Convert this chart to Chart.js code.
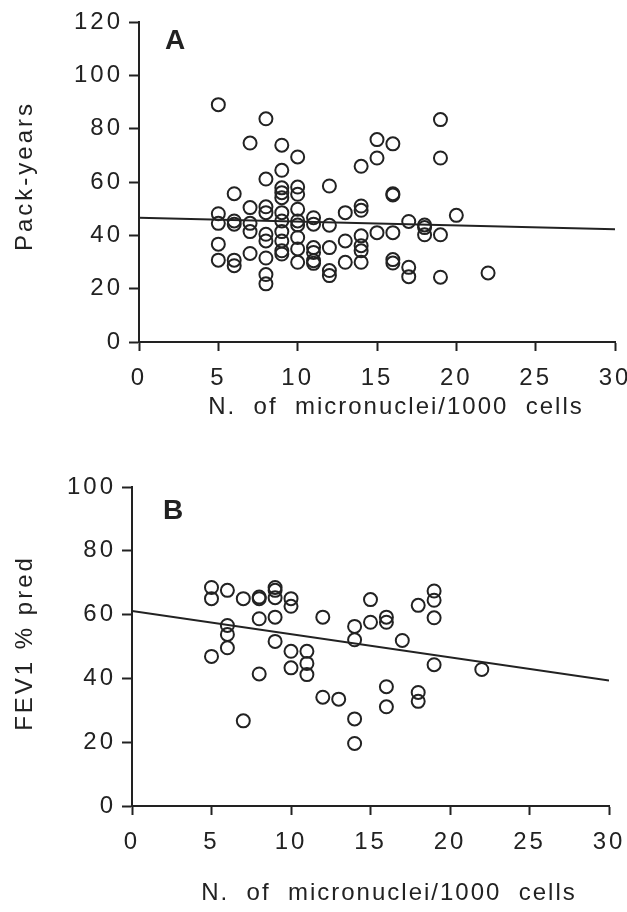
<!DOCTYPE html>
<html>
<head>
<meta charset="utf-8">
<script src="https://cdn.jsdelivr.net/npm/chart.js@4.4.1/dist/chart.umd.min.js"></script>
<style>
  html, body { margin: 0; padding: 0; background: #fff; }
  #wrap { position: relative; width: 627px; height: 912px; }
  .panel { position: absolute; left: 0; width: 627px; }
  #panelA { top: 0; height: 450px; }
  #panelB { top: 450px; height: 462px; }
</style>
</head>
<body>
<div id="wrap">
  <div class="panel" id="panelA"><canvas id="chart-a"></canvas></div>
  <div class="panel" id="panelB"><canvas id="chart-b"></canvas></div>
</div>
<script>
// === Data ===

// Panel A: micronuclei count vs pack-years
const microA = [
  5, 5, 5, 5, 5,
  6, 6, 6, 6, 6,
  7, 7, 7, 7, 7,
  8, 8, 8, 8, 8, 8, 8, 8, 8,
  9, 9, 9, 9, 9, 9, 9, 9, 9, 9, 9,
  10, 10, 10, 10, 10, 10, 10, 10, 10,
  11, 11, 11, 11, 11, 11,
  12, 12, 12, 12, 12,
  13, 13, 13,
  14, 14, 14, 14, 14, 14, 14,
  15, 15, 15,
  16, 16, 16, 16, 16, 16,
  17, 17, 17,
  18, 18, 18,
  19, 19, 19, 19,
  20,
  22,
];
const packYears = [
  89, 48.1, 44.5, 36.7, 30.7,
  55.6, 45.4, 44.2, 30.7, 28.6,
  74.6, 50.4, 44.5, 41.4, 33.2,
  83.7, 61.1, 50.7, 48.5, 40.4, 37.9, 31.5, 25.3, 21.8,
  73.8, 64.4, 57.8, 56.0, 54.1, 48.5, 45.4, 41.4, 37.9, 34.2, 33.0,
  69.4, 58.1, 55.4, 49.8, 45.4, 43.9, 39.2, 34.9, 29.9,
  46.6, 44.2, 35.4, 33.6, 30.5, 29.5,
  58.5, 43.8, 35.4, 26.8, 24.9,
  48.5, 37.9, 29.9,
  65.9, 51.0, 49.4, 39.8, 36.1, 34.2, 29.9,
  75.9, 69.0, 41.0,
  74.3, 55.6, 55.1, 41.0, 30.9, 29.6,
  45.2, 28.0, 24.5,
  43.9, 42.9, 40.2,
  83.4, 69.0, 40.2, 24.3,
  47.5,
  25.9,
];
const fitA = [46.6, 42.3]; // regression line at x = 0 and x = 30

// Panel B: micronuclei count vs FEV1 % predicted
const microB = [
  5, 5, 5,
  6, 6, 6, 6,
  7, 7,
  8, 8, 8, 8,
  9, 9, 9, 9, 9,
  10, 10, 10, 10,
  11, 11, 11,
  12, 12,
  13,
  14, 14, 14, 14,
  15, 15,
  16, 16, 16, 16,
  17,
  18, 18, 18,
  19, 19, 19, 19,
  22,
];
const fev1 = [
  68.5, 65.0, 46.9,
  67.6, 56.6, 53.8, 49.6,
  65.0, 26.7,
  65.5, 65.0, 58.7, 41.4,
  68.5, 67.6, 65.3, 59.2, 51.6,
  65.0, 62.6, 48.5, 43.3,
  48.5, 44.7, 41.2,
  59.2, 34.1,
  33.5,
  56.3, 52.1, 27.3, 19.6,
  64.7, 57.6,
  59.2, 57.6, 37.4, 31.1,
  51.9,
  62.9, 35.6, 32.8,
  67.4, 64.5, 59.0, 44.3,
  42.8,
];
const fitB = [61.1, 39.3];

const xTicks = [0, 5, 10, 15, 20, 25, 30];
const yTicksA = [0, 20, 40, 60, 80, 100, 120];
const yTicksB = [0, 20, 40, 60, 80, 100];

const xTitle = 'N.  of  micronuclei/1000  cells';

// === Styling ===
const INK = '#222';
const FONT = '"Liberation Sans", Arial, Helvetica, sans-serif';

function toPoints(xs, ys) {
  return xs.map((x, i) => ({ x, y: ys[i] }));
}

function axes(o) {
  return {
    x: {
      type: 'linear',
      min: 0,
      max: 30,
      afterBuildTicks: s => { s.ticks = xTicks.map(v => ({ value: v })); },
      afterFit: s => { s.height = o.xHeight; s.paddingLeft = 0; s.paddingRight = 0; },
      grid: { drawOnChartArea: false, drawTicks: true, tickLength: 9, tickWidth: 2, color: INK },
      border: { display: true, color: INK, width: 2 },
      ticks: { color: INK, padding: 13, autoSkip: false, maxRotation: 0, font: { family: FONT, size: 24 } },
    },
    y: {
      type: 'linear',
      min: 0,
      max: o.yTicks[o.yTicks.length - 1],
      afterBuildTicks: s => { s.ticks = o.yTicks.map(v => ({ value: v })); },
      afterFit: s => { s.width = o.yWidth; s.paddingTop = 0; s.paddingBottom = 0; },
      grid: { drawOnChartArea: false, drawTicks: true, tickLength: 10, tickWidth: 2, color: INK },
      border: { display: true, color: INK, width: 2 },
      ticks: { color: INK, padding: 6, font: { family: FONT, size: 24 } },
    },
  };
}

// Panel texts (letter, axis titles) and letter spacing
function textPlugin(o) {
  return {
    id: 'panelText',
    beforeDraw(chart) {
      chart.ctx.letterSpacing = '3px';
    },
    afterDraw(chart) {
      const ctx = chart.ctx;
      ctx.save();
      ctx.fillStyle = INK;

      ctx.letterSpacing = '0px';
      ctx.font = 'bold 28px ' + FONT;
      ctx.textAlign = 'left';
      ctx.textBaseline = 'alphabetic';
      ctx.fillText(o.letter, o.letterX, o.letterY);

      ctx.font = '24px ' + FONT;
      ctx.letterSpacing = '2px';
      ctx.textAlign = 'center';
      ctx.textBaseline = 'middle';
      ctx.fillText(xTitle, o.xTitleX, o.xTitleY);

      ctx.letterSpacing = '3px';
      ctx.translate(o.yTitleX, o.yTitleY);
      ctx.rotate(-Math.PI / 2);
      ctx.fillText(o.yTitle, 0, 0);
      ctx.restore();
      ctx.letterSpacing = '3px';
    },
  };
}

function makeChart(id, o) {
  return new Chart(document.getElementById(id), {
    type: 'scatter',
    data: {
      datasets: [
        {
          data: toPoints(o.xs, o.ys),
          pointStyle: 'circle',
          pointRadius: 6.5,
          pointHoverRadius: 6.5,
          pointBorderWidth: 2,
          borderColor: INK,
          backgroundColor: 'rgba(0,0,0,0)',
        },
        {
          data: [{ x: 0, y: o.fit[0] }, { x: 30, y: o.fit[1] }],
          showLine: true,
          pointRadius: 0,
          borderColor: INK,
          borderWidth: 2,
        },
      ],
    },
    options: {
      responsive: true,
      maintainAspectRatio: false,
      animation: false,
      layout: { padding: o.padding },
      plugins: { legend: { display: false }, tooltip: { enabled: false } },
      scales: axes(o),
    },
    plugins: [textPlugin(o)],
  });
}

makeChart('chart-a', {
  xs: microA, ys: packYears, fit: fitA, yTicks: yTicksA,
  yWidth: 139, xHeight: 108,
  padding: { left: 0, top: 22, right: 12, bottom: 0 },
  letter: 'A', letterX: 165, letterY: 49,
  yTitle: 'Pack-years', yTitleX: 25, yTitleY: 176,
  xTitleX: 396, xTitleY: 407,
});

makeChart('chart-b', {
  xs: microB, ys: fev1, fit: fitB, yTicks: yTicksB,
  yWidth: 132, xHeight: 106,
  padding: { left: 0, top: 37, right: 18, bottom: 0 },
  letter: 'B', letterX: 163, letterY: 69,
  yTitle: 'FEV1 % pred', yTitleX: 25, yTitleY: 193,
  xTitleX: 389, xTitleY: 443,
});
</script>
</body>
</html>
